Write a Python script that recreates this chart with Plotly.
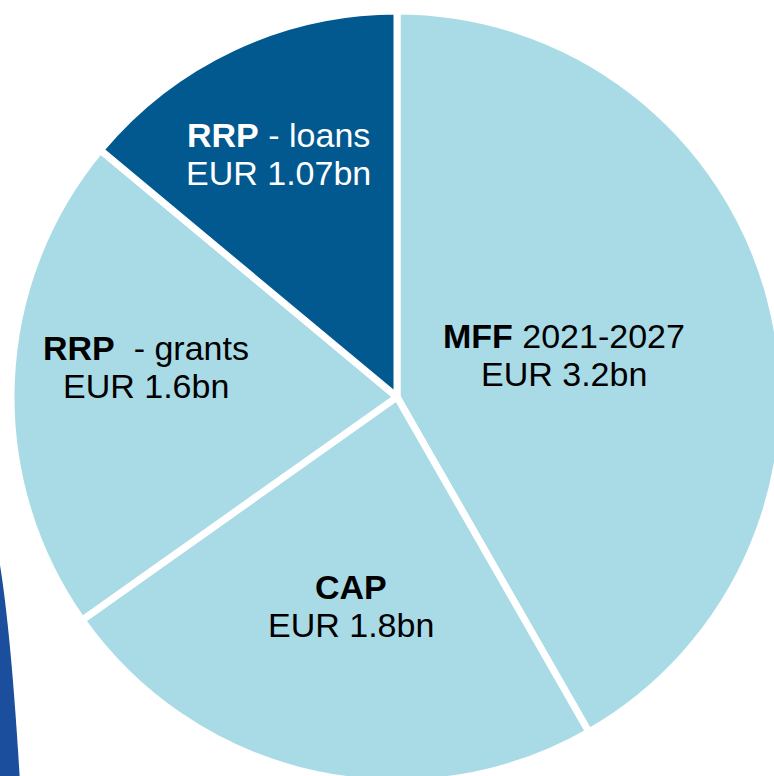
import math
import plotly.graph_objects as go

# Funding sources (EUR bn)
labels = ["MFF 2021-2027", "CAP", "RRP - grants", "RRP - loans"]
values = [3.2, 1.8, 1.6, 1.07]
bold_names = ["MFF", "CAP", "RRP", "RRP"]
name_suffix = [" 2021-2027", "", "  - grants", " - loans"]
amount_text = ["EUR 3.2bn", "EUR 1.8bn", "EUR 1.6bn", "EUR 1.07bn"]
slice_colors = ["#A9DBE7", "#A9DBE7", "#A9DBE7", "#02598F"]
text_colors = ["#000000", "#000000", "#000000", "#FFFFFF"]
# label placement inside each slice: fraction along the arc, fraction of radius
label_arc_frac = [0.505, 0.50, 0.56, 0.48]
label_rad_frac = [0.445, 0.555, 0.655, 0.70]

W, H = 800, 800
CX, CY, R = 397, 397, 386  # pie centre and radius, px
FONT = "Liberation Sans, Arial, sans-serif"
FS = 34
LINE_GAP = 19


def px_x(x):
    return x / W


def px_y(y):
    return 1 - y / H


fig = go.Figure()
fig.add_trace(go.Pie(
    labels=labels,
    values=values,
    sort=False,
    direction="clockwise",
    rotation=0,
    textinfo="none",
    hoverinfo="skip",
    marker=dict(colors=slice_colors, line=dict(color="white", width=7)),
    domain=dict(x=[(CX - R) / W, (CX + R) / W], y=[1 - (CY + R) / H, 1 - (CY - R) / H]),
    showlegend=False,
))

total = sum(values)
start = 0.0
annotations = []
for i, v in enumerate(values):
    span = v / total * 360
    ang = math.radians(start + span * label_arc_frac[i])
    lx = CX + label_rad_frac[i] * R * math.sin(ang)
    ly = CY - label_rad_frac[i] * R * math.cos(ang)
    start += span
    for text, dy in ((f"<b>{bold_names[i]}</b>{name_suffix[i]}", -LINE_GAP),
                     (amount_text[i], LINE_GAP)):
        annotations.append(dict(
            x=px_x(lx), y=px_y(ly + dy), xref="paper", yref="paper",
            text=text.replace("  ", "&nbsp; "), showarrow=False,
            xanchor="center", yanchor="middle",
            font=dict(family=FONT, size=FS, color=text_colors[i]),
        ))

# decorative dark-blue band at the lower-left edge
band = (f"M {px_x(0)},{px_y(565)} Q {px_x(12)},{px_y(640)} {px_x(21)},{px_y(800)} "
        f"L {px_x(0)},{px_y(800)} Z")

fig.update_layout(
    width=W, height=H,
    margin=dict(l=0, r=0, t=0, b=0),
    paper_bgcolor="white",
    plot_bgcolor="white",
    annotations=annotations,
    shapes=[dict(type="path", path=band, xref="paper", yref="paper",
                 fillcolor="#1B4E9C", line=dict(width=0), layer="below")],
)

fig.write_html("out.html")
